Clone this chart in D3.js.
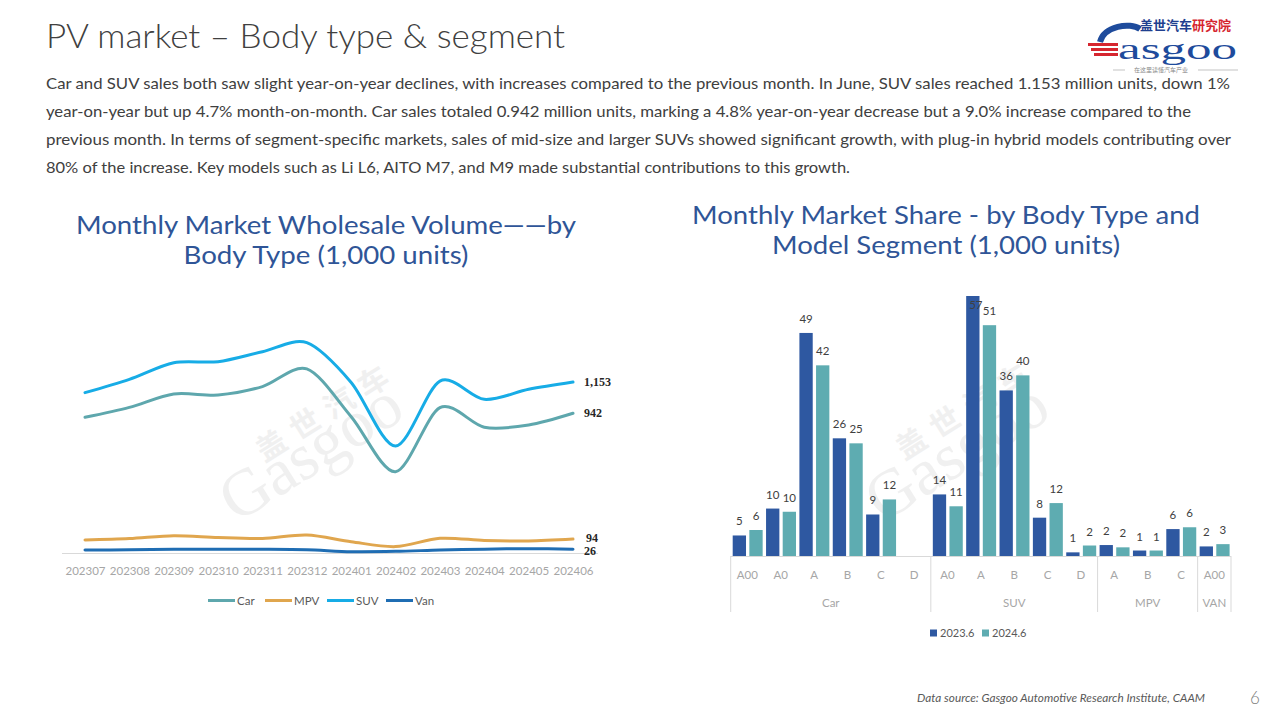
<!DOCTYPE html>
<html>
<head>
<meta charset="utf-8">
<script src="https://cdn.jsdelivr.net/npm/d3@7"></script>
<style>
  html, body { margin: 0; padding: 0; background: #fff; }
  svg { display: block; }
</style>
</head>
<body>
<svg id="chart" width="1280" height="720"></svg>
<script>
// ---------------- DATA ----------------
const months = ["202307","202308","202309","202310","202311","202312","202401","202402","202403","202404","202405","202406"];
const carVol = [915, 982, 1072, 1065, 1122, 1241, 919, 548, 980, 848, 863, 942];
const mpvVol = [88, 97, 117, 104, 98, 121, 76, 43, 99, 85, 81, 94];
const suvVol = [1081, 1171, 1283, 1290, 1357, 1418, 1150, 721, 1159, 1036, 1104, 1153];
const vanVol = [20, 22, 25, 25, 25, 22, 9, 11, 20, 26, 29, 26];
const lineSeriesNames = ["Car", "MPV", "SUV", "Van"];

const segments  = ["A00","A0","A","B","C","D","A0","A","B","C","D","A","B","C","A00"];
const bodyTypes = ["Car","Car","Car","Car","Car","Car","SUV","SUV","SUV","SUV","SUV","MPV","MPV","MPV","VAN"];
const sales2023 = [4.5, 10.4, 48.9, 25.8, 9.1, 0, 13.5, 57.0, 36.3, 8.4, 0.8, 2.4, 1.2, 5.9, 2.1];
const sales2024 = [5.7, 9.7, 41.8, 24.7, 12.4, 0, 10.9, 50.6, 39.6, 11.6, 2.3, 1.9, 1.2, 6.3, 2.6];
const barSeriesNames = ["2023.6", "2024.6"];

const paragraphLines = [
  "Car and SUV sales both saw slight year-on-year declines, with increases compared to the previous month. In June, SUV sales reached 1.153 million units, down 1%",
  "year-on-year but up 4.7% month-on-month. Car sales totaled 0.942 million units, marking a 4.8% year-on-year decrease but a 9.0% increase compared to the",
  "previous month. In terms of segment-specific markets, sales of mid-size and larger SUVs showed significant growth, with plug-in hybrid models contributing over",
  "80% of the increase. Key models such as Li L6, AITO M7, and M9 made substantial contributions to this growth."
];

// ---------------- STYLE ----------------
const FONT = "Lato, 'Noto Sans', 'DejaVu Sans', sans-serif";
const CJK = "'Noto Sans CJK SC', sans-serif";
const titleBlue = "#2f5597";
const lineColors = {Car: "#5ea7ad", MPV: "#e0a64e", SUV: "#17ace6", Van: "#1f6db3"};
const barColors = ["#2e58a1", "#5eacb1"];

const svg = d3.select("#chart");
svg.append("rect").attr("width", 1280).attr("height", 720).attr("fill", "#fff");

// ---------------- HEADER ----------------
svg.append("text").attr("x", 46).attr("y", 48)
  .attr("font-family", FONT).attr("font-weight", 300).attr("font-size", 34)
  .attr("fill", "#404040").attr("textLength", 519).attr("lengthAdjust", "spacingAndGlyphs")
  .text("PV market – Body type & segment");

const paraWidths = [1184, 1145, 1185, 804];
paragraphLines.forEach((t, i) => {
  svg.append("text").attr("x", 46).attr("y", 89 + i * 28)
    .attr("font-family", FONT).attr("font-size", 16).attr("fill", "#404040")
    .attr("textLength", paraWidths[i]).attr("lengthAdjust", "spacingAndGlyphs")
    .text(t);
});

// Logo
const logo = svg.append("g");
const brand = logo.append("text").attr("x", 1140).attr("y", 30).attr("font-family", CJK).attr("font-weight", 700)
  .attr("font-size", 13);
brand.append("tspan").attr("fill", "#1f3f8f").text("盖世汽车");
brand.append("tspan").attr("fill", "#d6262f").text("研究院");
[0, 1, 2].forEach(k => {
  logo.append("rect").attr("x", 1088 + k * 3).attr("y", 43 + k * 5).attr("width", 30 - k * 3).attr("height", 3)
    .attr("fill", "#d6262f");
});
logo.append("path").attr("d", "M1100,42 C1104,26 1130,22 1140,29").attr("fill", "none")
  .attr("stroke", "#1e4b9c").attr("stroke-width", 6);
logo.append("text").attr("x", 1118).attr("y", 59).attr("font-family", "'Liberation Serif', serif")
  .attr("font-size", 30).attr("fill", "#1e4b9c").attr("textLength", 119).attr("lengthAdjust", "spacingAndGlyphs")
  .text("asgoo");
logo.append("line").attr("x1", 1113).attr("x2", 1125).attr("y1", 70).attr("y2", 70).attr("stroke", "#aaa").attr("stroke-width", 0.7);
logo.append("line").attr("x1", 1198).attr("x2", 1238).attr("y1", 70).attr("y2", 70).attr("stroke", "#aaa").attr("stroke-width", 0.7);
logo.append("text").attr("x", 1161).attr("y", 72).attr("text-anchor", "middle").attr("font-family", CJK)
  .attr("font-size", 6).attr("fill", "#888").text("在这里读懂汽车产业");

// Watermarks
function watermark(cx, cy, cx2, cy2) {
  const g = svg.append("g").attr("opacity", 0.5);
  g.append("text").attr("transform", `translate(${cx},${cy}) rotate(-32)`).attr("text-anchor", "middle")
    .attr("font-family", "'Liberation Serif', serif").attr("font-size", 66).attr("fill", "#e2e2e2").text("Gasgoo");
  g.append("text").attr("transform", `translate(${cx2},${cy2}) rotate(-32)`).attr("text-anchor", "middle")
    .attr("font-family", CJK).attr("font-weight", 700).attr("font-size", 30).attr("letter-spacing", 10)
    .attr("fill", "#e2e2e2").text("盖世汽车");
}

// Footer
svg.append("text").attr("x", 917).attr("y", 702).attr("font-family", FONT).attr("font-style", "italic")
  .attr("font-size", 11).attr("fill", "#595959").attr("textLength", 288).attr("lengthAdjust", "spacingAndGlyphs")
  .text("Data source: Gasgoo Automotive Research Institute, CAAM");
svg.append("text").attr("x", 1255).attr("y", 704).attr("text-anchor", "middle").attr("font-family", FONT)
  .attr("font-weight", 300).attr("font-size", 17).attr("fill", "#808080").text("6");

// ---------------- LEFT CHART ----------------
svg.append("text").attr("x", 326).attr("y", 234).attr("text-anchor", "middle")
  .attr("font-family", FONT).attr("font-size", 25).attr("fill", titleBlue)
  .attr("textLength", 500).attr("lengthAdjust", "spacingAndGlyphs").text("Monthly Market Wholesale Volume——by");
svg.append("text").attr("x", 326).attr("y", 264).attr("text-anchor", "middle")
  .attr("font-family", FONT).attr("font-size", 25).attr("fill", titleBlue)
  .attr("textLength", 285).attr("lengthAdjust", "spacingAndGlyphs").text("Body Type (1,000 units)");

watermark(322, 470, 332, 420);

const xL = d3.scalePoint().domain(months).range([85, 573]);
const yL = d3.scaleLinear().domain([0, 1153]).range([553, 382]);

const axL = svg.append("g").attr("transform", "translate(0,553)")
  .call(d3.axisBottom(xL).tickSize(0).tickPadding(14));
axL.select(".domain").remove();
axL.selectAll("text").attr("font-family", FONT).attr("font-size", 11.5).attr("fill", "#a6a6a6");
svg.append("line").attr("x1", 62).attr("x2", 598).attr("y1", 553.5).attr("y2", 553.5)
  .attr("stroke", "#d9d9d9").attr("stroke-width", 1);

const lineData = {Car: carVol, MPV: mpvVol, SUV: suvVol, Van: vanVol};
const lineGen = d3.line().x((d, i) => xL(months[i])).y(d => yL(d)).curve(d3.curveCardinal.tension(0.1));
["Van", "MPV", "Car", "SUV"].forEach(name => {
  svg.append("path").datum(lineData[name]).attr("d", lineGen).attr("fill", "none")
    .attr("stroke", lineColors[name]).attr("stroke-width", 3).attr("stroke-linecap", "round");
});

const endLabels = lineSeriesNames.map(n => ({name: n, v: lineData[n][months.length - 1]}))
  .map(d => ({...d, y: yL(d.v)})).sort((a, b) => a.y - b.y);
for (let i = 1; i < endLabels.length; i++) {
  if (endLabels[i].y - endLabels[i - 1].y < 13) {
    const mid = (endLabels[i].y + endLabels[i - 1].y) / 2;
    endLabels[i - 1].y = mid - 6.5; endLabels[i].y = mid + 6.5;
  }
}
endLabels.forEach(d => {
  svg.append("text").attr("x", xL(months[months.length - 1]) + 11 + (d.v < 100 && d.v > 50 ? 2 : 0)).attr("y", d.y + 4)
    .attr("font-family", "'Liberation Serif', serif").attr("font-weight", 700).attr("font-size", 12)
    .attr("fill", "#262626").text(d3.format(",")(d.v));
});

const legL = svg.append("g");
const legX = [208, 265, 327, 386];
lineSeriesNames.forEach((n, i) => {
  legL.append("line").attr("x1", legX[i]).attr("x2", legX[i] + 27).attr("y1", 600.5).attr("y2", 600.5)
    .attr("stroke", lineColors[n]).attr("stroke-width", 3);
  legL.append("text").attr("x", legX[i] + 29).attr("y", 604.5).attr("font-family", FONT)
    .attr("font-size", 11.5).attr("fill", "#595959").text(n);
});

// ---------------- RIGHT CHART ----------------
svg.append("text").attr("x", 946).attr("y", 224).attr("text-anchor", "middle")
  .attr("font-family", FONT).attr("font-size", 25).attr("fill", titleBlue)
  .attr("textLength", 508).attr("lengthAdjust", "spacingAndGlyphs").text("Monthly Market Share - by Body Type and");
svg.append("text").attr("x", 946).attr("y", 254).attr("text-anchor", "middle")
  .attr("font-family", FONT).attr("font-size", 25).attr("fill", titleBlue)
  .attr("textLength", 348).attr("lengthAdjust", "spacingAndGlyphs").text("Model Segment (1,000 units)");

watermark(968, 470, 972, 418);

const idx = d3.range(segments.length);
const x0 = d3.scaleBand().domain(idx).range([730.7, 1231]).padding(0);
const x1 = d3.scaleBand().domain([0, 1]).range([2, x0.bandwidth() - 1.4]).paddingInner(0.2);
const yR = d3.scaleLinear().domain([0, 57]).range([556, 296]);

const barData = [sales2023, sales2024];
barData.forEach((vals, s) => {
  svg.append("g").selectAll("rect").data(vals).join("rect")
    .attr("x", (d, i) => x0(i) + x1(s)).attr("width", x1.bandwidth())
    .attr("y", d => yR(d)).attr("height", d => yR(0) - yR(d))
    .attr("fill", barColors[s]);
});
barData.forEach((vals, s) => {
  svg.append("g").selectAll("text").data(vals.map((v, i) => ({v, i}))).join("text")
    .filter(d => d.v > 0)
    .attr("x", d => x0(d.i) + x1(s) + x1.bandwidth() / 2 + (yR(d.v) - 14 < 305 ? (s === 0 ? 3 : -3) : 0))
    .attr("y", d => Math.max(yR(d.v) - 14, 305) + 4)
    .attr("text-anchor", "middle").attr("font-family", FONT).attr("font-size", 11.5).attr("fill", "#404040")
    .text(d => d3.format(".0f")(d.v));
});

svg.append("line").attr("x1", 730.7).attr("x2", 1231).attr("y1", 556.5).attr("y2", 556.5)
  .attr("stroke", "#d9d9d9");
svg.append("g").selectAll("text").data(idx).join("text")
  .attr("x", i => x0(i) + x0.bandwidth() / 2).attr("y", 579)
  .attr("text-anchor", "middle").attr("font-family", FONT).attr("font-size", 11.5).attr("fill", "#a6a6a6")
  .text(i => segments[i]);

const groupNames = [...new Set(bodyTypes)];
const groups = groupNames.map(g => {
  const members = idx.filter(i => bodyTypes[i] === g);
  return {name: g, start: x0(members[0]), end: x0(members[members.length - 1]) + x0.bandwidth()};
});
const bounds = [groups[0].start, ...groups.map(g => g.end)];
svg.append("g").selectAll("line").data(bounds).join("line")
  .attr("x1", d => d).attr("x2", d => d).attr("y1", 556).attr("y2", 612)
  .attr("stroke", "#d9d9d9");
svg.append("g").selectAll("text").data(groups).join("text")
  .attr("x", g => (g.start + g.end) / 2).attr("y", 607)
  .attr("text-anchor", "middle").attr("font-family", FONT).attr("font-size", 11.5).attr("fill", "#a6a6a6")
  .text(g => g.name);

const legRX = [930, 982];
barSeriesNames.forEach((n, i) => {
  svg.append("rect").attr("x", legRX[i]).attr("y", 629.5).attr("width", 7).attr("height", 7).attr("fill", barColors[i]);
  svg.append("text").attr("x", legRX[i] + 10).attr("y", 637).attr("font-family", FONT)
    .attr("font-size", 11).attr("fill", "#595959").text(n);
});
</script>
</body>
</html>
